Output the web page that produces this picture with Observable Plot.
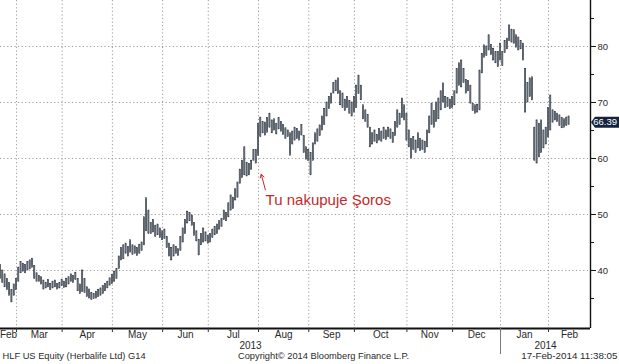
<!DOCTYPE html>
<html><head><meta charset="utf-8">
<script src="https://cdn.jsdelivr.net/npm/d3@7"></script>
<script src="https://cdn.jsdelivr.net/npm/@observablehq/plot@0.6"></script>
<style>
html,body{margin:0;padding:0;background:#fff;}
#chart{width:619px;height:364px;overflow:hidden;position:relative;}
</style></head><body><div id="chart"></div>
<script>
// Month labels and number of trading days shown in each month (Feb 2013 .. Feb 2014)
const monthLabels = ["Feb","Mar","Apr","May","Jun","Jul","Aug","Sep","Oct","Nov","Dec","Jan","Feb"];
const monthDays   = [7, 20, 22, 22, 20, 22, 22, 20, 23, 20, 21, 21, 10];
const yearLabels  = ["2013", "2014"];
const yearStartMonth = [0, 11];
const yTicks = [40, 50, 60, 70, 80];
const yMinorTicks = [35, 45, 55, 65, 75, 85];

// Daily low / high (USD), HLF US Equity, one value per trading day
const lows = [
38.5,37.8,37,36.5,35.5,34.3,35.5,36.5,38,39.5,39.8,39.5,40,40.2,40.5,38.5,38,38,37.5,36.6,
36.8,37,36.5,36.8,37,36.6,36.8,37.2,36.9,37,37.5,38,37.8,38.3,36.3,35.8,36.2,36,35.3,35,
34.7,34.9,35,35.3,35.5,35.8,36.3,36.8,37.3,37.6,38,38.5,40.3,41.8,42,43,42.5,43.2,42.8,43,
42.6,43,43.5,44.5,47,46.5,46.5,46.8,46,46.3,45.8,45.4,45.6,44,42.5,41.8,42.5,43,42.6,43.5,
45,46.5,48.4,48.8,48,46.2,45.2,42.7,44.5,45,45.2,44.8,45,45.8,46.3,46.5,47.3,47.8,49,48.8,
49.5,50.7,51,52.5,53,55.5,56.5,57,56.8,57,58,59.6,59.1,60.5,63.8,64.5,64.1,64.6,65.5,64.5,
65,64.3,65.2,64.8,64.2,63.5,63.8,60.5,62.5,63.2,63.5,63.2,64.1,61,59.8,59.6,57,59.6,62.5,63,
64,65,66,67.5,68.8,69.8,71.6,72,71.5,69.5,69,68.5,69,68,67.5,68.2,69,71.5,70.4,67,
66.5,65.5,62,62.5,63,62.7,63.2,63,63.5,63.3,63.8,63.5,62.8,64,65.5,66,67.2,66.8,63.2,62,
60,61.5,61,61.8,61.3,61.5,61,62,64.5,66,65.5,66.5,67,68.6,70,69,69.2,68.8,69,69.5,
71.6,73,72.7,73.5,71.6,72,69.8,68.5,68,68.2,68.6,75.2,78,78.3,79.3,78.5,77.5,77,76.3,77.5,
76.5,78.8,79.5,81,80.7,80.5,79.8,79.3,79.5,77.5,68.2,70,71,70.4,59.6,59.1,60.2,61,61.8,62.5,
63.75,65,66.4,66.8,66.5,65.8,65.4,65.5,65.8,66
];
const highs = [
41,40,39.3,38.5,37.8,36.5,37.5,38.5,40.5,41.5,41.2,41,41.5,41.8,42.1,40.8,39.5,39,38.8,38.2,
37.8,38.3,37.6,38,38.2,37.6,37.8,38.3,38,38.5,38.8,39.3,39,39.6,38.5,37.5,40,38.5,37,36.6,
36,35.8,36.2,36.5,36.8,37.2,37.6,38,38.6,39.2,39.8,40.3,42.5,44,44.5,44.8,44.2,45.4,44.5,44.3,
44,44.6,45,49.5,52.9,50.7,48.5,49,48,48.2,47.5,47,47.3,46,44.8,44,44.5,44.2,43.8,46,
47.5,49,50.5,50.3,49.8,48.5,47,45.5,46.5,47.5,46.8,46.2,46.5,47.3,47.8,48.2,48.8,49.2,50.7,50.3,
52,53.4,53,54.5,55.7,58,59.6,62,59.2,59,59.6,61.5,61.5,66.2,67.3,66.5,66.4,67.2,68,66.8,
67,66.2,67.2,66.5,66,65.4,65,64.5,64.8,65.5,65.3,64.8,66,64,62,61.5,61,62.7,64.5,65.2,
65.9,67.5,68.8,70,71,71.6,73.5,73.9,74.3,72,71.6,70.5,71,70.3,70,71,73,74.8,73,69.5,
68.6,67.8,65.5,64.5,65,64.2,65.3,64.8,65.5,65,65.5,65.2,64.6,66.5,68.6,68,70.7,69.5,68,65,
63.5,63.8,63.2,64.5,63.5,63.2,63,65,67.5,69.8,68.5,70,70.7,72,73.4,71,70.8,70.5,71,72,
76,77,77.5,76,74,73.8,73,69.8,69.5,69.6,75.7,78.7,80.2,80,82,80.3,79.6,79,79,80.5,
79,81,81.4,83.75,83,82.9,82,81.6,81,80.5,76,73.5,74.3,74.5,65.5,66.8,66.2,66.8,65,65.5,
69,71.25,68.6,68.3,68,67.7,67.2,67,67.3,67.5
];
const lastPrice = 66.39;

// Annotation (trading-day index, price)
const annotationText = "Tu nakupuje Şoros";
const annotationTextAt = {day: 116.1, value: 52.6};
const arrowFrom = {day: 116.0, value: 54.4};
const arrowTo   = {day: 114.2, value: 57.2};

const footerLeft = "HLF US Equity (Herbalife Ltd) G14";
const footerCenter = "Copyright\u00A9 2014 Bloomberg Finance L.P.";
const footerRight = "17-Feb-2014 11:38:05";

// ---- derived tables ----
const xDomain = [0, 258.4];
const yDomain = [29.64, 88.21];
const bars = lows.map((lo, i) => ({i, low: lo, high: highs[i]}));
const starts = monthDays.reduce((a, n, k) => (a.push(k ? a[k - 1] + monthDays[k - 1] : 0), a), []);
const monthTicks = starts.slice(1);
const months = monthLabels.map((label, k) => {
  const s = k === 0 ? xDomain[0] : starts[k];
  const e = k === monthLabels.length - 1 ? xDomain[1] : starts[k + 1];
  return {label, mid: (s + e) / 2};
});
const years = yearLabels.map((label, k) => {
  const s = k === 0 ? xDomain[0] : starts[yearStartMonth[k]];
  const e = k === yearLabels.length - 1 ? xDomain[1] : starts[yearStartMonth[k + 1]];
  return {label, mid: (s + e) / 2};
});
const yearTicks = yearStartMonth.slice(1).map(m => starts[m]);

const font = "'Liberation Sans', Arial, sans-serif";
const txt = "#2a2a2a";
const red = "#c42a2a";

const plot = Plot.plot({
  width: 619, height: 364,
  marginLeft: 0, marginRight: 29, marginTop: 0, marginBottom: 36,
  x: {type: "linear", domain: xDomain, axis: null, label: null},
  y: {domain: yDomain, axis: null, label: null},
  style: {fontFamily: font, fontSize: "10px", color: txt, background: "#fff"},
  marks: [
    Plot.gridY(yTicks, {stroke: "#9c9c9c", strokeOpacity: 1, strokeDasharray: "1.2,2.4"}),
    Plot.gridX(monthTicks, {stroke: "#9c9c9c", strokeOpacity: 1, strokeDasharray: "1.2,2.4"}),
    Plot.rect(bars, {x1: d => d.i - 0.24, x2: d => d.i + 0.24, y1: "low", y2: "high",
      fill: "#8a9db6", stroke: "#1f2329", strokeWidth: 0.6}),
    Plot.ruleY([yDomain[0]], {stroke: "#111", strokeWidth: 2}),
    Plot.ruleX([xDomain[1]], {stroke: "#111", strokeWidth: 1.4}),
    Plot.axisY(yTicks, {anchor: "right", label: null, tickSize: 5, tickPadding: 2, fontSize: 9.5, color: txt, stroke: "#111"}),
    Plot.axisY(yMinorTicks, {anchor: "right", label: null, tickSize: 3, tickFormat: () => "", stroke: "#111"}),
    Plot.axisX(monthTicks, {anchor: "bottom", label: null, tickSize: 4, tickFormat: () => "", stroke: "#333"}),
    Plot.axisX(yearTicks, {anchor: "bottom", label: null, tickSize: 26, tickFormat: () => "", stroke: "#777"}),
    Plot.text(months, {x: "mid", text: "label", frameAnchor: "bottom", dy: 9, fontSize: 10, fill: txt}),
    Plot.text(years, {x: "mid", text: "label", frameAnchor: "bottom", dy: 20, fontSize: 10, fill: txt}),
    Plot.text([footerLeft], {frameAnchor: "bottom-left", dx: 2, dy: 30, textAnchor: "start", fontSize: 9.3, fill: txt}),
    Plot.text([footerCenter], {frameAnchor: "bottom", dx: 28, dy: 30, fontSize: 9.3, fill: txt}),
    Plot.text([footerRight], {frameAnchor: "bottom-right", dx: 27, dy: 30, textAnchor: "end", fontSize: 9.8, fill: txt}),
    Plot.arrow([0], {x1: () => arrowFrom.day, y1: () => arrowFrom.value, x2: () => arrowTo.day, y2: () => arrowTo.value,
      stroke: red, strokeWidth: 1, headLength: 6}),
    Plot.text([annotationText], {x: () => annotationTextAt.day, y: () => annotationTextAt.value, textAnchor: "start",
      fontSize: 15, fill: red})
  ]
});
document.getElementById("chart").appendChild(plot);

// Last-price marker on the right axis
const yS = plot.scale("y"), xS = plot.scale("x");
const py = yS.apply(lastPrice), px = xS.apply(xDomain[1]);
const g = d3.select(plot).append("g");
g.append("path")
  .attr("d", `M${px + 1},${py} L${px + 5},${py - 5.5} L619,${py - 5.5} L619,${py + 5.5} L${px + 5},${py + 5.5} Z`)
  .attr("fill", "#13233d");
g.append("text").attr("x", 617).attr("y", py).attr("dy", "0.34em").attr("text-anchor", "end")
  .attr("fill", "#fff").attr("font-size", 9.5).attr("font-family", font).text(lastPrice.toFixed(2));
</script>
</body></html>
